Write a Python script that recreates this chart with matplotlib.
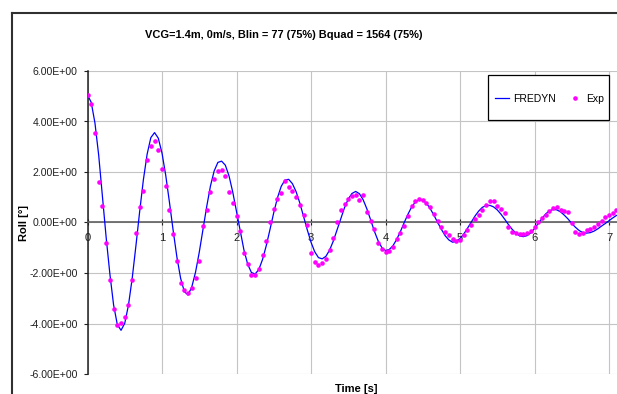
import matplotlib
matplotlib.use('Agg')
import matplotlib.pyplot as plt
from matplotlib.patches import Rectangle
from matplotlib.lines import Line2D
from matplotlib.ticker import FuncFormatter, MultipleLocator
import numpy as np

plt.rcParams['font.family'] = ['Liberation Sans', 'DejaVu Sans']

# sample step of both records [s]
dt = 0.05

# FREDYN simulation, roll [deg], every 0.05 s
fredyn_roll = [
    5.05, 4.76, 3.94, 2.67, 1.05, -0.58, -2.03, -3.26, -4.04, -4.27,
    -3.99, -3.27, -2.21, -0.92, 0.43, 1.69, 2.70, 3.36, 3.56, 3.34,
    2.75, 1.87, 0.80, -0.32, -1.37, -2.21, -2.74, -2.87, -2.55, -1.97,
    -1.18, -0.28, 0.63, 1.44, 2.04, 2.38, 2.43, 2.27, 1.84, 1.20,
    0.43, -0.36, -1.09, -1.65, -1.98, -2.04, -1.86, -1.46, -0.91, -0.27,
    0.39, 0.98, 1.43, 1.68, 1.71, 1.54, 1.22, 0.77, 0.24, -0.29,
    -0.78, -1.16, -1.39, -1.44, -1.34, -1.09, -0.73, -0.29, 0.16, 0.59,
    0.93, 1.15, 1.23, 1.14, 0.90, 0.54, 0.11, -0.34, -0.72, -0.99,
    -1.11, -1.07, -0.92, -0.67, -0.36, -0.01, 0.32, 0.61, 0.81, 0.90,
    0.88, 0.76, 0.55, 0.29, 0.00, -0.27, -0.52, -0.69, -0.78, -0.75,
    -0.63, -0.46, -0.23, 0.01, 0.25, 0.45, 0.60, 0.67, 0.68, 0.62,
    0.50, 0.33, 0.13, -0.08, -0.27, -0.42, -0.53, -0.56, -0.52, -0.41,
    -0.24, -0.04, 0.16, 0.34, 0.46, 0.52, 0.50, 0.42, 0.29, 0.14,
    -0.04, -0.19, -0.32, -0.40, -0.42, -0.40, -0.34, -0.25, -0.14, -0.04,
    0.07, 0.18, 0.28,
]

# experiment, roll [deg]
exp_roll = [
    5.04, 4.69, 3.53, 1.60, 0.67, -0.83, -2.26, -3.42, -4.04, -3.98,
    -3.75, -3.27, -2.26, -0.42, 0.62, 1.24, 2.49, 3.04, 3.22, 2.86,
    2.13, 1.46, 0.50, -0.46, -1.54, -2.41, -2.66, -2.81, -2.61, -2.20,
    -1.51, -0.14, 0.50, 1.21, 1.74, 2.02, 2.06, 1.85, 1.19, 0.77,
    0.26, -0.32, -1.19, -1.63, -2.09, -2.09, -1.84, -1.30, -0.74, 0.03,
    0.54, 0.92, 1.17, 1.64, 1.42, 1.25, 1.00, 0.69, 0.30, -0.08,
    -1.19, -1.57, -1.68, -1.60, -1.45, -1.07, -0.63, 0.03, 0.51, 0.74,
    0.92, 1.04, 1.08, 0.90, 1.09, 0.41, 0.07, -0.24, -0.83, -1.05,
    -1.15, -1.11, -0.99, -0.66, -0.42, -0.12, 0.24, 0.66, 0.85, 0.95,
    0.90, 0.79, 0.63, 0.34, 0.04, -0.18, -0.36, -0.51, -0.66, -0.72,
    -0.68, -0.49, -0.30, -0.08, 0.13, 0.30, 0.50, 0.70, 0.87, 0.86,
    0.67, 0.53, 0.37, -0.18, -0.37, -0.42, -0.46, -0.45, -0.40, -0.32,
    -0.16, 0.02, 0.17, 0.30, 0.47, 0.57, 0.62, 0.50, 0.45, 0.40,
    -0.03, -0.38, -0.45, -0.43, -0.29, -0.24, -0.16, -0.04, 0.07, 0.21,
    0.29, 0.37, 0.50,
]

time_s = np.arange(len(fredyn_roll)) * dt

title = "VCG=1.4m, 0m/s, Blin = 77 (75%) Bquad = 1564 (75%)"

W, H = 617, 394


def fx(px):
    return px / W


def fy(py):
    return 1 - py / H


fig = plt.figure(figsize=(W / 100, H / 100), dpi=100)

# Excel chart-area frame (left and top edges visible)
fig.add_artist(Line2D([fx(12), fx(12)], [fy(13), 0], color='#303030', lw=1.5))
fig.add_artist(Line2D([fx(12), 1], [fy(13), fy(13)], color='#303030', lw=1.5))

ax = fig.add_axes([fx(87.5), fy(374), fx(617) - fx(87.5), fy(71) - fy(374)])

ax.plot(time_s, fredyn_roll, color='#0000ff', lw=0.9, label='FREDYN', zorder=3)
ax.plot(time_s, exp_roll, ls='none', marker='o', ms=3.3, mec='none',
        mfc='#ff00ff', label='Exp', zorder=4)

ax.set_xlim(0, (617 - 87.5) / 74.5)
ax.set_ylim(-6, 6)
ax.xaxis.set_major_locator(MultipleLocator(1))
ax.yaxis.set_major_locator(MultipleLocator(2))
ax.yaxis.set_major_formatter(FuncFormatter(lambda v, p: '{:.2E}'.format(v)))
ax.xaxis.set_major_formatter(FuncFormatter(lambda v, p: '%d' % round(v)))

ax.grid(True, color='#c4c4c4', lw=0.8)
ax.set_axisbelow(True)

ax.spines['top'].set_visible(False)
ax.spines['right'].set_visible(False)
ax.spines['bottom'].set_position(('data', 0))
ax.spines['bottom'].set_color('#606060')
ax.spines['bottom'].set_linewidth(1.2)
ax.spines['left'].set_color('#202020')
ax.spines['left'].set_linewidth(1.1)

ax.tick_params(axis='y', direction='out', length=3, width=0.8, pad=4,
               labelsize=7.6, colors='#202020')
ax.tick_params(axis='x', direction='inout', length=5, width=0.8, pad=5,
               labelsize=8, colors='#202020')

fig.text(fx(283.5), fy(35), title, ha='center', va='center',
         fontsize=7.9, fontweight='bold')
fig.text(fx(24), fy(222.7), 'Roll [°]', rotation=90, ha='center', va='center',
         fontsize=8, fontweight='bold')
fig.text(fx(356), fy(389.5), 'Time [s]', ha='center', va='center',
         fontsize=8, fontweight='bold')

# legend box
ax.add_patch(Rectangle((fx(488), fy(120)), fx(609) - fx(488), fy(75) - fy(120),
                       transform=fig.transFigure, facecolor='white',
                       edgecolor='black', lw=0.9, zorder=5, clip_on=False))
leg = ax.legend(loc='center', bbox_to_anchor=(fx(549.5), fy(98.5)),
                bbox_transform=fig.transFigure, ncol=2, frameon=False,
                fontsize=7.5, handlelength=1.4, handletextpad=0.35,
                columnspacing=1.2, markerscale=1.0)
leg.set_zorder(6)

fig.savefig('out.png', dpi=100)
